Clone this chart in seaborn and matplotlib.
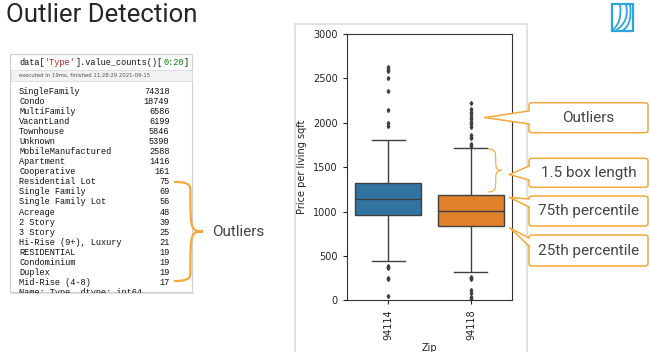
"""Slide: Outlier Detection - value_counts listing plus a price/sqft boxplot by zip."""

import matplotlib
matplotlib.use("Agg")
import matplotlib.pyplot as plt
from matplotlib.patches import Rectangle, FancyBboxPatch, Polygon, PathPatch
from matplotlib.path import Path as MPath
import numpy as np
import pandas as pd
import seaborn as sns

W, H = 650, 352

# ---- listing on the left ----
type_names = [
    "SingleFamily", "Condo", "MultiFamily", "VacantLand", "Townhouse",
    "Unknown", "MobileManufactured", "Apartment", "Cooperative",
    "Residential Lot", "Single Family", "Single Family Lot", "Acreage",
    "2 Story", "3 Story", "Hi-Rise (9+), Luxury", "RESIDENTIAL",
    "Condominium", "Duplex", "Mid-Rise (4-8)",
]
type_counts = [74318, 18749, 6586, 6199, 5846, 5390, 2588, 1416, 161,
               75, 69, 56, 48, 39, 25, 21, 19, 19, 19, 17]

# ---- boxplot summary ----
zips = ["94114", "94118"]
q1 = [964, 837]
medians = [1141, 1009]
q3 = [1324, 1189]
whisker_lo = [443, 315]
whisker_hi = [1805, 1712]
fliers = [
    [2631, 2605, 2582, 2500, 2354, 2140, 2000, 1963, 386, 372, 360, 255, 243, 48],
    [2225, 2151, 2124, 2098, 2068, 2038, 2011, 1982, 1955, 1861, 1842, 1824,
     1757, 1738, 266, 250, 236, 116, 86, 41, 11],
]
box_colors = ["#3274a1", "#e1812c"]

callouts = ["Outliers", "1.5 box length", "75th percentile", "25th percentile"]

ORANGE = "#f5a83a"
LOGO = "#2ba6de"


def fx(x):
    return x / W


def fy(y):
    return 1 - y / H


def P(x, y):
    return (fx(x), fy(y))


def sample_for(i):
    # values that reproduce the read-off quartiles, whiskers and fliers
    m = 200
    vals = list(fliers[i]) + [whisker_lo[i], whisker_hi[i]]
    vals += [q1[i]] * m + [medians[i]] * m + [q3[i]] * m
    return vals


fig = plt.figure(figsize=(W / 100, H / 100), dpi=100)
fig.patch.set_facecolor("white")

# title
fig.text(fx(6.5), fy(15.5), "Outlier Detection", family="Roboto", fontsize=18.5,
         color="#262626", va="center", ha="left")

# ---- notebook panel ----
fig.add_artist(Rectangle(P(11, 293), fx(193) - fx(11), fy(55) - fy(293),
                         transform=fig.transFigure, facecolor="#e8e8e8",
                         edgecolor="none", zorder=0))
panel = Rectangle(P(10, 292), fx(192) - fx(10), fy(54) - fy(292),
                  transform=fig.transFigure, facecolor="white",
                  edgecolor="#cfcfcf", linewidth=0.8, zorder=1)
fig.add_artist(panel)
fig.add_artist(Rectangle(P(10.5, 81), fx(191.5) - fx(10.5), fy(70) - fy(81),
                         transform=fig.transFigure, facecolor="#f2f2f2",
                         edgecolor="#dcdcdc", linewidth=0.6, zorder=2))

mono = "Liberation Mono"
fs_mono = 6.2
cw = 0.6 * fs_mono * 100 / 72
x0 = 19
pieces = [("data[", "#111111"), ("'Type'", "#ba2121"),
          ("].value_counts()[", "#111111"), ("0:20", "#008000"), ("]", "#111111")]
off = 0
for txt, col in pieces:
    fig.text(fx(x0 + off * cw), fy(62.3), txt, family=mono, fontsize=fs_mono,
             color=col, va="center", ha="left", zorder=3)
    off += len(txt)
fig.text(fx(19), fy(75.5), "executed in 19ms, finished 11:28:29 2021-09-15",
         family="DejaVu Sans", fontsize=3.9, color="#555555", va="center",
         ha="left", zorder=3)

row0, step = 91, 10.09
for i, (name, cnt) in enumerate(zip(type_names, type_counts)):
    y = row0 + i * step
    fig.text(fx(x0), fy(y), name, family=mono, fontsize=fs_mono,
             color="#111111", va="center", ha="left", zorder=3)
    fig.text(fx(169.5), fy(y), str(cnt), family=mono, fontsize=fs_mono,
             color="#111111", va="center", ha="right", zorder=3)
# last row is cut off by the screenshot edge
fig.text(fx(x0), fy(row0 + 20 * step), "Name: Type, dtype: int64",
         family=mono, fontsize=fs_mono, color="#111111", va="center",
         ha="left", zorder=3)
fig.add_artist(Rectangle(P(5, 305), fx(200) - fx(5), fy(292.6) - fy(305),
                         transform=fig.transFigure, facecolor="white",
                         edgecolor="none", zorder=9))
fig.add_artist(plt.Line2D([fx(11), fx(193)], [fy(293), fy(293)],
                          transform=fig.transFigure, color="#e0e0e0",
                          linewidth=0.8, zorder=10))


def brace(x_back, x_tip, y_top, y_bot, lw, color):
    ym = (y_top + y_bot) / 2
    xs = x_back + (x_tip - x_back) * 0.55
    verts = [P(x_back, y_top),
             P(xs, y_top), P(xs, y_top + 4), P(xs, y_top + 10),
             P(xs, ym - 3), P(xs, ym), P(x_tip, ym),
             P(xs, ym), P(xs, ym + 3), P(xs, y_bot - 10),
             P(xs, y_bot - 4), P(xs, y_bot), P(x_back, y_bot)]
    codes = [MPath.MOVETO] + [MPath.CURVE4] * 12
    fig.add_artist(PathPatch(MPath(verts, codes), transform=fig.transFigure,
                             facecolor="none", edgecolor=color, linewidth=lw,
                             capstyle="round", zorder=4))


# left brace + label
brace(175, 203, 182, 281, 1.6, ORANGE)
fig.text(fx(212), fy(231.5), "Outliers", family="Roboto", fontsize=11,
         color="#444444", va="center", ha="left")

# ---- boxplot panel ----
fig.add_artist(Rectangle(P(295, 360), fx(527) - fx(295), fy(24) - fy(360),
                         transform=fig.transFigure, facecolor="white",
                         edgecolor="#dddddd", linewidth=1.2, zorder=0))

df = pd.DataFrame({
    "Zip": np.concatenate([[z] * len(sample_for(i)) for i, z in enumerate(zips)]),
    "Price per living sqft": np.concatenate([sample_for(i) for i in range(len(zips))]),
})

ax = fig.add_axes([fx(346.7), fy(300.3), fx(512.3) - fx(346.7), fy(34) - fy(300.3)])
sns.boxplot(data=df, x="Zip", y="Price per living sqft", hue="Zip",
            order=zips, hue_order=zips, palette=box_colors, saturation=1,
            legend=False, linecolor="#3f3f3f", linewidth=1.0, width=0.8,
            flierprops=dict(marker="d", markersize=2.0,
                            markerfacecolor="#3f3f3f", markeredgecolor="#3f3f3f"),
            ax=ax)
ax.set_ylim(0, 3000)
ax.set_yticks(range(0, 3001, 500))
ax.tick_params(axis="both", labelsize=7, length=3, width=0.8, colors="#222222")
ax.tick_params(axis="x", labelrotation=90)
ax.set_ylabel("Price per living sqft", fontsize=7, color="#222222", labelpad=4)
ax.set_xlabel("Zip", fontsize=7, color="#222222", labelpad=2)
for sp in ax.spines.values():
    sp.set_color("#333333")
    sp.set_linewidth(0.8)

# small brace next to the 94118 upper whisker
brace(488, 502, 149, 192, 0.8, ORANGE)

# ---- callouts on the right ----
boxes = [(102.7, 132.7), (158.3, 187.3), (196, 226), (235, 266)]
tips = [(485, 117.5), (509.5, 174.5), (510, 197.5), (510, 228)]
bases = [(111, 124), (166, 180), (199, 207), (238, 246)]
bx0, bx1 = 529, 648
for label, (t, b), tip, (ya, yb) in zip(callouts, boxes, tips, bases):
    fig.add_artist(FancyBboxPatch(P(bx0, b), fx(bx1) - fx(bx0), fy(t) - fy(b),
                                  boxstyle="round,pad=0,rounding_size=0.006",
                                  transform=fig.transFigure, facecolor="white",
                                  edgecolor=ORANGE, linewidth=1.1, zorder=5))
    fig.add_artist(Polygon([P(bx0 + 1.5, ya), P(*tip), P(bx0 + 1.5, yb)],
                           closed=True, transform=fig.transFigure,
                           facecolor="white", edgecolor="none", zorder=6))
    for yy in (ya, yb):
        fig.add_artist(plt.Line2D([fx(tip[0]), fx(bx0)], [fy(tip[1]), fy(yy)],
                                  transform=fig.transFigure, color=ORANGE,
                                  linewidth=1.1, zorder=7))
    fig.text(fx((bx0 + bx1) / 2), fy((t + b) / 2), label, family="Roboto",
             fontsize=11, color="#444444", va="center", ha="center", zorder=8)

# ---- logo ----
fig.add_artist(Rectangle(P(611.5, 31), fx(633) - fx(611.5), fy(4.5) - fy(31),
                         transform=fig.transFigure, facecolor="none",
                         edgecolor=LOGO, linewidth=1.6, zorder=5))
for (sx, ex, ey, c) in [(620, 611.5, 31, (623, 22)), (626, 615, 31, (630, 22)),
                        (630, 622, 31, (633, 24))]:
    verts = [P(sx, 4.5), P(*c), P(ex, ey)]
    fig.add_artist(PathPatch(MPath(verts, [MPath.MOVETO, MPath.CURVE3, MPath.CURVE3]),
                             transform=fig.transFigure, facecolor="none",
                             edgecolor=LOGO, linewidth=1.3, zorder=5))

fig.savefig("out.png", dpi=100)
